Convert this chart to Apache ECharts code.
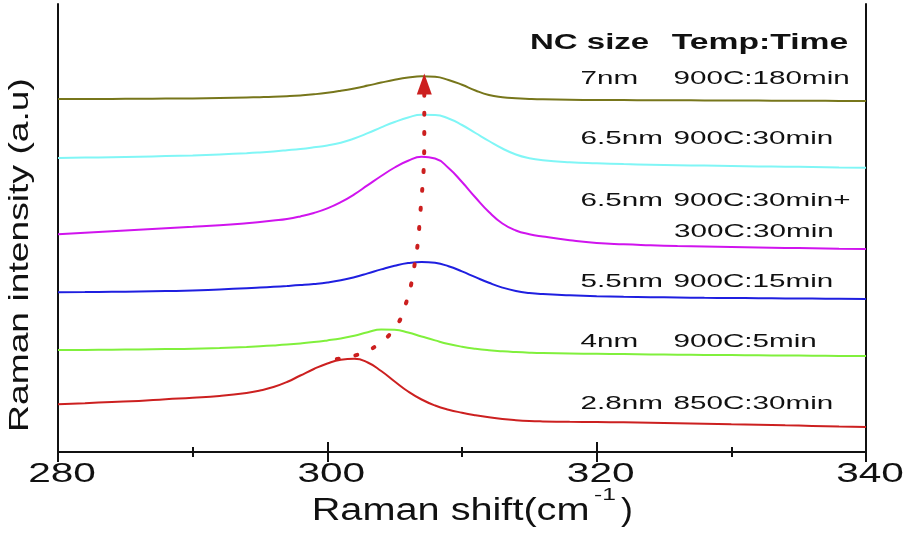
<!DOCTYPE html>
<html>
<head>
<meta charset="utf-8">
<style>
  html, body { margin: 0; padding: 0; background: #fff; }
  #chart { width: 906px; height: 533px; }
</style>
<script src="https://cdn.jsdelivr.net/npm/echarts@6/dist/echarts.min.js"></script>
</head>
<body>
<div id="chart"></div>
<script>
// Raman shift (cm-1) sample points shared by all spectra
const shift = [280, 282, 284, 286, 288, 290, 292, 294, 295, 296, 297, 298, 299, 300, 301, 302, 303, 304, 305, 306, 307, 308, 309, 310, 311, 312, 313, 314, 315, 316, 318, 320, 322, 324, 326, 328, 330, 332, 334, 336, 338, 340];

// intensities (a.u., stacked with offsets as in the figure)
const nc7_180 = [353, 353, 353.1, 353.2, 353.4, 353.6, 354, 354.5, 354.8, 355.2, 355.8, 356.6, 357.7, 359.2, 361.2, 363.6, 366.4, 369.4, 372.2, 374.4, 375.7, 375.2, 372, 367.2, 361.5, 357, 354.8, 353.7, 353.1, 352.7, 352.3, 352, 351.9, 351.8, 351.7, 351.6, 351.5, 351.4, 351.3, 351.2, 351.1, 351];
const nc65_30 = [294, 294.4, 294.8, 295.3, 295.9, 296.6, 297.6, 298.8, 299.6, 300.6, 301.8, 303.1, 304.7, 306.5, 309.3, 313.5, 318.8, 324.6, 330, 334.5, 337.2, 337, 333.5, 327, 319, 311, 303.5, 297.5, 293.8, 291.8, 289.8, 288.7, 287.9, 287.3, 286.8, 286.4, 286, 285.6, 285.3, 285, 284.6, 284.3];
const nc65_30_300 = [217.7, 219.2, 220.7, 222.2, 223.7, 225.2, 226.8, 228.8, 230, 231.4, 233, 235.6, 239, 243.6, 249.8, 257.6, 266.8, 276, 284.5, 291.3, 295.2, 293.5, 284, 270, 254.5, 240, 228.5, 221.5, 217.8, 215.5, 211.8, 209, 207.7, 206.8, 206, 205.4, 204.9, 204.5, 204.1, 203.7, 203.3, 203];
const nc55_15 = [159.7, 159.9, 160.2, 160.5, 160.9, 161.4, 162.6, 163.7, 164.4, 165.2, 166, 166.9, 168, 169.5, 171.7, 174.8, 178.6, 182.6, 186.2, 188.9, 190.1, 189.2, 185.8, 180.6, 174.8, 169.2, 164.4, 161, 159, 157.9, 156.7, 155.8, 155.2, 154.8, 154.5, 154.2, 154, 153.8, 153.6, 153.4, 153.2, 153];
const nc4_5 = [102, 102.1, 102.3, 102.6, 102.9, 103.3, 104.1, 105.1, 105.8, 106.6, 107.5, 108.6, 109.9, 111.6, 113.6, 116.3, 119.8, 122.4, 122.2, 119.5, 115.5, 111.6, 108, 105.3, 103.3, 101.8, 100.7, 99.9, 99.3, 98.9, 98.5, 98.2, 97.9, 97.6, 97.3, 97.1, 96.9, 96.7, 96.5, 96.3, 96.1, 96];
const nc28_30 = [47.7, 48.8, 50, 51.1, 52.8, 54.2, 56, 59, 61.5, 65, 70, 76.5, 83, 88.5, 92.2, 93.2, 89.5, 81, 70.5, 60.5, 52.5, 46.5, 42.3, 39.3, 36.8, 34.7, 33, 31.8, 31, 30.6, 30.2, 30, 29.7, 29.3, 28.8, 28.3, 27.8, 27.3, 26.7, 26.1, 25.5, 25];

// peak-shift guide (dotted arrow)
const guideX = [300.7, 302.4, 303.8, 305.0, 305.7, 306.4, 306.9, 307.2, 307.2];
const guideY = [93, 98, 108, 124, 143, 181, 238, 320, 358];
const arrowTip = [307.2, 368];

const xTicks = [280, 300, 320, 340];
const noteSize = ['7nm', '6.5nm', '6.5nm', '5.5nm', '4nm', '2.8nm'];
const noteTreat = ['900C:180min', '900C:30min', '900C:30min+', '900C:15min', '900C:5min', '850C:30min'];

const FONT = '"Liberation Sans", Arial, sans-serif';

const pairs = (xs, ys) => xs.map((x, i) => [x, ys[i]]);

function spectrum(name, ys, color) {
	return {
		name: name,
		type: 'line',
		data: pairs(shift, ys),
		smooth: 0.5,
		showSymbol: false,
		lineStyle: { color: color, width: 2 },
		z: 3
	};
}

function txt(text, x, base, size, opts) {
	opts = opts || {};
	const align = opts.align || 'left';
	return {
		type: 'text',
		x: x,
		y: opts.center ? base : base - 0.35 * size,
		rotation: opts.rotation || 0,
		scaleX: opts.stretch || 1,
		z: 100,
		silent: true,
		style: {
			text: text,
			font: (opts.bold ? 'bold ' : '') + size + 'px ' + FONT,
			fill: '#111',
			align: align,
			verticalAlign: 'middle',
			textAlign: align,
			textVerticalAlign: 'middle'
		}
	};
}

const axisBase = {
	type: 'value',
	min: 280,
	max: 340,
	interval: 20,
	axisLine: { lineStyle: { color: '#111', width: 2 } },
	axisTick: { inside: true, length: 10, lineStyle: { color: '#111', width: 2 } },
	minorTick: { show: true, splitNumber: 2, length: 5, lineStyle: { color: '#111', width: 2 } },
	axisLabel: { show: false },
	splitLine: { show: false },
	minorSplitLine: { show: false }
};

const chart = echarts.init( document.getElementById( 'chart' ), null, { renderer: 'canvas' } );

chart.setOption( {
	animation: false,
	grid: { left: 58, right: 40, top: 4, bottom: 81 },
	xAxis: [
		Object.assign( {}, axisBase, { position: 'bottom' } ),
		Object.assign( {}, axisBase, { position: 'top' } )
	],
	yAxis: [
		{ type: 'value', min: 0, max: 448, position: 'left', axisLine: { show: true, lineStyle: { color: '#111', width: 2 } }, axisTick: { show: false }, axisLabel: { show: false }, splitLine: { show: false } },
		{ type: 'value', min: 0, max: 448, position: 'right', axisLine: { show: true, lineStyle: { color: '#111', width: 2 } }, axisTick: { show: false }, axisLabel: { show: false }, splitLine: { show: false } }
	],
	series: [
		spectrum( '7nm', nc7_180, '#77761b' ),
		spectrum( '6.5nm 30min', nc65_30, '#80f6f6' ),
		spectrum( '6.5nm anneal', nc65_30_300, '#d014ee' ),
		spectrum( '5.5nm', nc55_15, '#1f1fe0' ),
		spectrum( '4nm', nc4_5, '#80f03c' ),
		spectrum( '2.8nm', nc28_30, '#cc2020' ),
		{
			type: 'line',
			data: pairs( guideX, guideY ),
			smooth: 0.5,
			showSymbol: false,
			lineStyle: { color: '#cc1f1f', width: 4, type: [ 2, 17 ], cap: 'round' },
			z: 4
		},
		{
			type: 'scatter',
			data: [ arrowTip ],
			symbol: 'triangle',
			symbolSize: [ 15, 21 ],
			itemStyle: { color: '#cc1f1f', opacity: 1 },
			z: 5
		}
	]
} );

// text layer, stretched horizontally like the original figure
const graphics = [];
xTicks.forEach( ( v ) => {
	const px = chart.convertToPixel( { xAxisIndex: 0 }, v );
	graphics.push( txt( String( v ), px + 4, 484.3, 28, { align: 'center', stretch: 1.45 } ) );
} );
graphics.push( txt( 'Raman shift(cm', 311.7, 522.3, 31, { stretch: 1.28 } ) );
graphics.push( txt( '-1', 594, 501, 17, { stretch: 1.45 } ) );
graphics.push( txt( ')', 621, 522.3, 31, { stretch: 1.15 } ) );
graphics.push( txt( 'Raman intensity (a.u)', 20, 255, 28, { center: true, align: 'center', rotation: Math.PI / 2, stretch: 1.33 } ) );

graphics.push( txt( 'NC size', 530, 51, 22, { bold: true, stretch: 1.5 } ) );
graphics.push( txt( 'Temp:Time', 671.7, 51, 22, { bold: true, stretch: 1.53 } ) );
const noteBase = [ 85, 145, 207.3, 288.3, 348.3, 410 ];
noteSize.forEach( ( s, i ) => {
	graphics.push( txt( s, 580.5, noteBase[ i ], 19, { stretch: 1.56 } ) );
	graphics.push( txt( noteTreat[ i ], 673.5, noteBase[ i ], 19, { stretch: 1.56 } ) );
} );
graphics.push( txt( '300C:30min', 674, 238.3, 19, { stretch: 1.56 } ) );

chart.setOption( { graphic: graphics } );
</script>
</body>
</html>
